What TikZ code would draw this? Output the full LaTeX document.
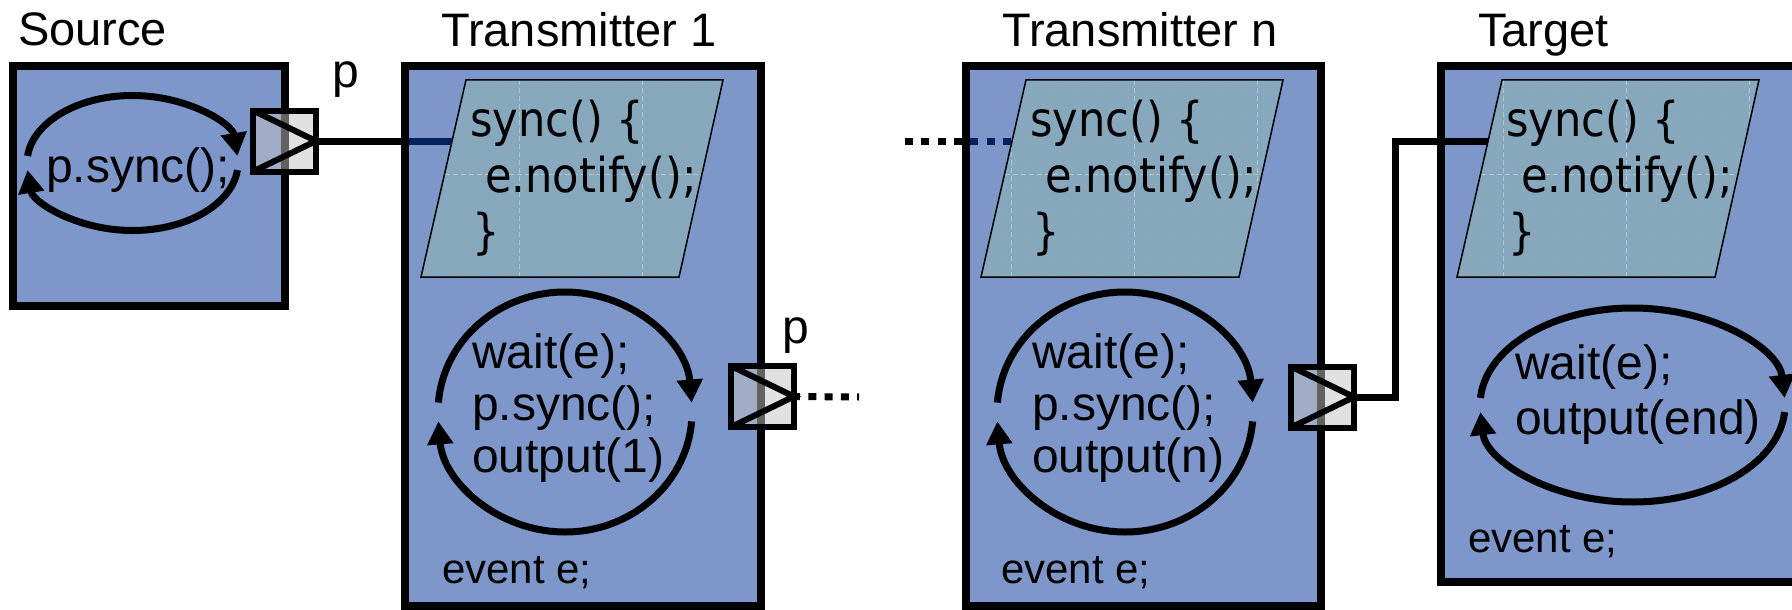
\documentclass[tikz,border=0pt]{standalone}
\usepackage{fontspec}
\setmainfont{Liberation Sans}
\newfontfamily\codefont[FakeStretch=0.9]{DejaVu Sans}
\usetikzlibrary{arrows.meta,patterns,calc}

\definecolor{boxblue}{RGB}{126,151,202}
\definecolor{navy}{RGB}{0,32,96}
\definecolor{portgray}{RGB}{196,196,196}
\definecolor{hatchbase}{RGB}{142,165,204}
\definecolor{hatchline}{RGB}{122,176,158}

% two arrowed arcs forming a cycle: centre, x radius, y radius, half gap angle
\newcommand\cyclearrows[4]{%
  \draw[cyc] ($(#1)+({180-#4}:#2 and #3)$)
    arc[start angle={180-#4}, end angle=#4, x radius=#2, y radius=#3];
  \draw[cyc] ($(#1)+({-#4}:#2 and #3)$)
    arc[start angle={-#4}, end angle={-180+#4}, x radius=#2, y radius=#3];
}

\begin{document}
\begin{tikzpicture}[x=1pt,y=-1pt,
  box/.style={rectangle, draw=black, line width=8pt, fill=boxblue,
    inner sep=0pt, outer sep=0pt},
  title/.style={anchor=base west, inner sep=0pt,
    font=\fontsize{47pt}{56pt}\selectfont},
  txt/.style={anchor=base west, inner sep=0pt,
    font=\fontsize{48pt}{56pt}\selectfont},
  small/.style={anchor=base west, inner sep=0pt,
    font=\fontsize{42pt}{50pt}\selectfont},
  code/.style={anchor=base west, inner sep=0pt,
    font=\codefont\fontsize{48pt}{56pt}\selectfont},
  hatch/.style={pattern=north west lines, pattern color=hatchline,
    fill opacity=0.35},
  gridln/.style={draw=white, draw opacity=0.35, line width=0.7pt,
    dash pattern=on 5pt off 3pt},
  cyc/.style={draw=black, line width=7pt,
    -{Triangle[length=23pt,width=25pt]}},
  port/.style={rectangle, draw=black, line width=6pt, fill=portgray,
    fill opacity=0.5, minimum width=63pt, minimum height=61pt,
    inner sep=0pt, outer sep=0pt},
  portmark/.style={draw=black, line width=6pt},
  wire/.style={draw=black, line width=7pt},
  dots/.style={wire, dash pattern=on 8pt off 8.3pt}]

\useasboundingbox (0,0) rectangle (1792,610);
\clip (0,0) rectangle (1792,610);
\fill[white] (0,0) rectangle (1792,610);

% module boxes
\node[box, minimum width=272pt, minimum height=240pt] (src) at (149,186) {};
\node[box, minimum width=356pt, minimum height=540pt] (tx1) at (583,336) {};
\node[box, minimum width=355pt, minimum height=540pt] (txn) at (1143.5,336) {};
\node[box, minimum width=369pt, minimum height=516pt] (tgt) at (1625.5,324) {};

% module names
\node[title] (srcname) at (18,46) {Source};
\node[title] (tx1name) at (441,47) {Transmitter 1};
\node[title] (txnname) at (1002,47) {Transmitter n};
\node[title] (tgtname) at (1478,47) {Target};

% sync() method panels
\foreach \dx/\nm in {0/a,560/b,1036/c}{
  \fill[hatchbase] ({466+\dx},80) -- ({723+\dx},80) -- ({679+\dx},277) -- ({421+\dx},277) -- cycle;
  \fill[hatch] ({466+\dx},80) -- ({723+\dx},80) -- ({679+\dx},277) -- ({421+\dx},277) -- cycle;
  \begin{scope}
    \clip ({466+\dx},80) -- ({723+\dx},80) -- ({679+\dx},277) -- ({421+\dx},277) -- cycle;
    \foreach \gx in {396,519,...,1749} \draw[gridln] (\gx,80) -- (\gx,277);
    \draw[gridln] ({421+\dx},174) -- ({723+\dx},174);
  \end{scope}
  \draw[line width=1.5pt] ({466+\dx},80) -- ({723+\dx},80) -- ({679+\dx},277) -- ({421+\dx},277) -- cycle;
  \node[code] (sync\nm) at ({470+\dx},136) {sync() \{};
  \node[code] (notify\nm) at ({485+\dx},192) {e.notify();};
  \node[code] (close\nm) at ({472+\dx},248) {\}};
  \coordinate (pin\nm) at ({452+\dx},141);
}

% process loops
\coordinate (c0) at (132.5,163);
\coordinate (c1) at (565,412);
\coordinate (c2) at (1125,412);
\coordinate (c3) at (1632.5,405);
\cyclearrows{c0}{105.5pt}{67.5pt}{6}
\cyclearrows{c1}{127pt}{120pt}{4.5}
\cyclearrows{c2}{128pt}{120pt}{4.5}
\cyclearrows{c3}{152.5pt}{97pt}{4.2}

\node[txt] (srcbody) at (46,182) {p.sync();};

\node[txt] (w1) at (472,368) {wait(e);};
\node[txt] (s1) at (472,420) {p.sync();};
\node[txt] (o1) at (472,472) {output(1)};

\node[txt] (wn) at (1032,368) {wait(e);};
\node[txt] (sn) at (1032,420) {p.sync();};
\node[txt] (on) at (1032,472) {output(n)};

\node[txt] (wt) at (1515,379) {wait(e);};
\node[txt] (ot) at (1515,434) {output(end)};

\node[small] (ev1) at (442,583) {event e;};
\node[small] (evn) at (1001,583) {event e;};
\node[small] (evt) at (1468,552) {event e;};

% ports
\node[port] (sp) at (284.5,141) {};
\node[port] (tp1) at (762.5,396.5) {};
\node[port] (tpn) at (1322.5,397) {};
\foreach \p in {sp,tp1,tpn}
  \draw[portmark] (\p.north west) -- (\p.east) -- (\p.south west);

\node[txt] (spname) at (332,88) {p};
\node[txt] (tp1name) at (782,343) {p};

% connections
\coordinate (dotend) at (859,397);
\coordinate (dotstart) at (905,141);

\draw[wire] (sp.east) -- (pina);
\begin{scope}
  \clip ([shift={(4pt,-4pt)}]tx1.north west) rectangle ([shift={(-4pt,4pt)}]tx1.south east);
  \draw[wire, draw=navy] (sp.east) -- (pina);
\end{scope}

\draw[dots] ([xshift=-2pt]tp1.east) -- (dotend);

\draw[dots] (dotstart) -- (pinb);
\begin{scope}
  \clip ([shift={(4pt,-4pt)}]txn.north west) rectangle ([shift={(-4pt,4pt)}]txn.south east);
  \draw[dots, draw=navy] (dotstart) -- (pinb);
\end{scope}

\draw[wire] (tpn.east) -- ++(41.5pt,0pt) |- (pinc);

\end{tikzpicture}
\end{document}
